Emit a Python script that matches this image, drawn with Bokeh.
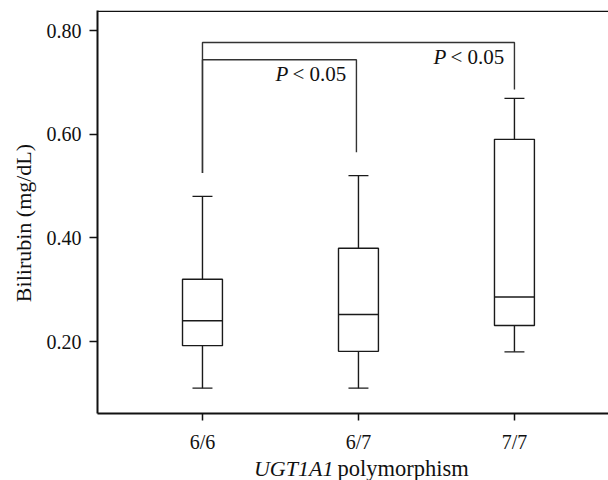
from bokeh.plotting import figure
from bokeh.layouts import column, row
from bokeh.models import FixedTicker, Span, Label, ColumnDataSource, Range1d, NumeralTickFormatter
from bokeh.core.properties import value
from bokeh.embed import file_html
from bokeh.resources import INLINE
import numpy as np

# ---- data ----
groups = ["6/6", "6/7", "7/7"]
whisker_low = [0.11, 0.11, 0.18]
q1 = [0.192, 0.181, 0.231]
median = [0.24, 0.252, 0.286]
q3 = [0.32, 0.38, 0.59]
whisker_high = [0.48, 0.52, 0.669]

y_ticks = [0.20, 0.40, 0.60, 0.80]

# significance brackets
br_from = [1, 1]
br_to = [1.987, 3]
br_top = [0.7435, 0.777]
br_left_end = [0.525, 0.525]
br_right_end = [0.565, 0.686]
p_text = ["< 0.05", "< 0.05"]

x_title_italic = "UGT1A1"
x_title_rest = "polymorphism"
y_title = "Bilirubin (mg/dL)"

FONT = "Liberation Serif"
TXT = "#111111"
x = np.arange(1, len(groups) + 1)

LEFT_W = 40
xr = Range1d(0.327, 3.603)
Y_END = 0.8386
p = figure(width=608 - LEFT_W, height=455, output_backend="svg", toolbar_location=None,
           x_range=xr, y_range=Range1d(0.0611, Y_END),
           min_border_left=97 - LEFT_W, min_border_right=0, min_border_top=10, min_border_bottom=42)
p.outline_line_color = None
p.grid.visible = False

src = ColumnDataSource(dict(x=x, lo=whisker_low, q1=q1, med=median, q3=q3, hi=whisker_high))
box_w = 0.256
cap_w = 0.128
LC = "#1a1a1a"
LW = 1.4
p.segment(x0="x", y0="lo", x1="x", y1="q1", source=src, line_color=LC, line_width=LW)
p.segment(x0="x", y0="q3", x1="x", y1="hi", source=src, line_color=LC, line_width=LW)
p.segment(x0=x - cap_w / 2, y0=whisker_low, x1=x + cap_w / 2, y1=whisker_low, line_color=LC, line_width=LW)
p.segment(x0=x - cap_w / 2, y0=whisker_high, x1=x + cap_w / 2, y1=whisker_high, line_color=LC, line_width=LW)
p.quad(left=x - box_w / 2, right=x + box_w / 2, bottom=q1, top=q3, fill_color="white",
       line_color=LC, line_width=LW)
p.segment(x0=x - box_w / 2, y0=median, x1=x + box_w / 2, y1=median, line_color=LC, line_width=LW)

for f, t_, top, le, re, txt in zip(br_from, br_to, br_top, br_left_end, br_right_end, p_text):
    p.line([f, f, t_, t_], [le, top, top, re], line_color="#333333", line_width=LW)
    ytxt = top - 0.028
    p.add_layout(Label(x=t_, y=ytxt, text="P", x_offset=-81, text_align="left", text_baseline="middle",
                       text_font=FONT, text_font_style="italic", text_font_size="21px", text_color=TXT))
    p.add_layout(Label(x=t_, y=ytxt, text=txt, x_offset=-64, text_align="left", text_baseline="middle",
                       text_font=FONT, text_font_size="21px", text_color=TXT))

# top frame line
p.add_layout(Span(location=Y_END - 0.0015, dimension="width", line_color=TXT, line_width=1.6))

for ax in (p.xaxis, p.yaxis):
    ax.axis_line_color = TXT
    ax.axis_line_width = 2
    ax.major_tick_line_color = TXT
    ax.major_tick_line_width = 1.5
    ax.minor_tick_line_color = None
    ax.major_tick_in = 0
    ax.major_label_text_font = FONT
    ax.major_label_text_font_size = "20px"
    ax.major_label_text_color = TXT

p.xaxis.ticker = FixedTicker(ticks=list(x))
p.xaxis.major_label_overrides = {int(i): g for i, g in zip(x, groups)}
p.xaxis.major_tick_out = 7
p.xaxis.major_label_standoff = 10

p.yaxis.ticker = FixedTicker(ticks=y_ticks)
p.yaxis.formatter = NumeralTickFormatter(format="0.00")
p.yaxis.major_tick_out = 8
p.yaxis.major_label_standoff = 8

# x title strip (mixed italic / roman)
t = figure(width=608 - LEFT_W, height=25, output_backend="svg", toolbar_location=None,
           x_range=xr, y_range=Range1d(0, 1),
           min_border_left=97 - LEFT_W, min_border_right=0, min_border_top=0, min_border_bottom=0)
t.axis.visible = False
t.grid.visible = False
t.outline_line_color = None
split = 1.833
t.text(x=[split], y=[0.5], text=[x_title_italic], x_offset=1, text_align="right", text_baseline="middle",
       text_font=value(FONT), text_font_style="italic", text_font_size="22px", text_color=TXT)
t.text(x=[split], y=[0.5], text=[x_title_rest], x_offset=5, text_align="left", text_baseline="middle",
       text_font=value(FONT), text_font_size="22.5px", text_color=TXT)

# y title strip
s = figure(width=LEFT_W, height=480, output_backend="svg", toolbar_location=None,
           x_range=Range1d(0, LEFT_W), y_range=Range1d(0, 480),
           min_border_left=0, min_border_right=0, min_border_top=0, min_border_bottom=0)
s.axis.visible = False
s.grid.visible = False
s.outline_line_color = None
s.text(x=[23], y=[480 - 222.5], text=[y_title], angle=np.pi / 2, text_align="center", text_baseline="middle",
       text_font=value(FONT), text_font_size="22px", text_color=TXT)

layout = row(s, column(p, t, spacing=0), spacing=0)
open("out.html", "w").write(file_html(layout, INLINE))
